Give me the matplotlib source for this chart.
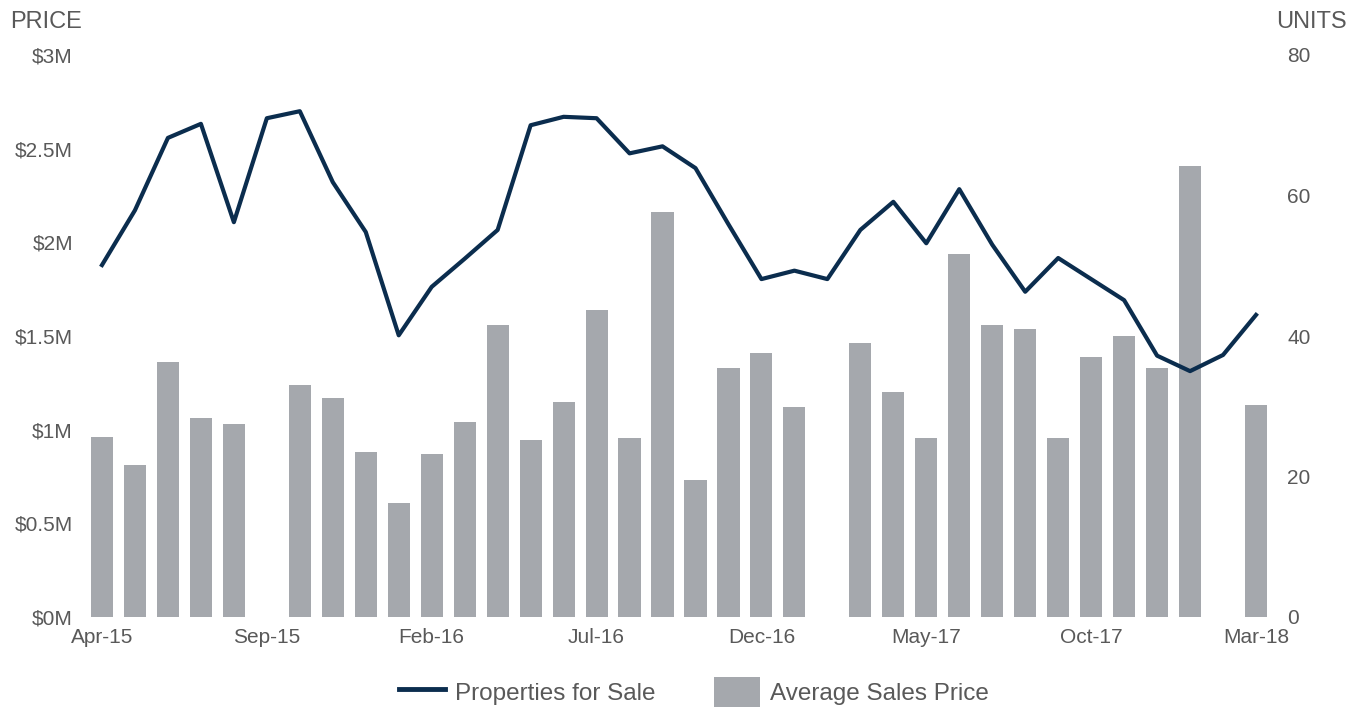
import numpy as np
import matplotlib.pyplot as plt
from matplotlib.patches import Patch
from matplotlib.lines import Line2D

plt.rcParams['font.family'] = ['Liberation Sans', 'DejaVu Sans']

months = ['Apr-15', 'May-15', 'Jun-15', 'Jul-15', 'Aug-15', 'Sep-15', 'Oct-15', 'Nov-15', 'Dec-15',
          'Jan-16', 'Feb-16', 'Mar-16', 'Apr-16', 'May-16', 'Jun-16', 'Jul-16', 'Aug-16', 'Sep-16',
          'Oct-16', 'Nov-16', 'Dec-16', 'Jan-17', 'Feb-17', 'Mar-17', 'Apr-17', 'May-17', 'Jun-17',
          'Jul-17', 'Aug-17', 'Sep-17', 'Oct-17', 'Nov-17', 'Dec-17', 'Jan-18', 'Feb-18', 'Mar-18']

# average sales price, $M (nan = no sales that month)
avg_price = [0.96, 0.81, 1.36, 1.06, 1.03, np.nan, 1.24, 1.17, 0.88, 0.61, 0.87, 1.04,
             1.56, 0.945, 1.15, 1.64, 0.955, 2.16, 0.73, 1.33, 1.41, 1.12, np.nan, 1.46,
             1.20, 0.955, 1.94, 1.56, 1.54, 0.955, 1.39, 1.50, 1.33, 2.41, np.nan, 1.13]

# properties for sale, units
units = [50.1, 57.9, 68.2, 70.2, 56.2, 71.0, 72.0, 61.9, 54.8, 40.1, 47.0, 51.0,
         55.1, 70.0, 71.2, 71.0, 66.0, 67.0, 63.9, 55.9, 48.1, 49.3, 48.1, 55.1,
         59.1, 53.2, 60.9, 53.0, 46.3, 51.1, 48.1, 45.1, 37.2, 35.0, 37.3, 43.0]

price_ticks = [0, 0.5, 1, 1.5, 2, 2.5, 3]
price_labels = ['$0M', '$0.5M', '$1M', '$1.5M', '$2M', '$2.5M', '$3M']
unit_ticks = [0, 20, 40, 60, 80]
label_idx = [0, 5, 10, 15, 20, 25, 30, 35]

bar_color = '#a5a8ad'
line_color = '#0b2d4e'
text_color = '#595959'

fig = plt.figure(figsize=(13.64, 7.09), dpi=100)
ax = fig.add_axes([85.5 / 1364, 1 - 617 / 709, 1187 / 1364, 562 / 709])
ax2 = ax.twinx()

x = np.arange(len(months))
ax.bar(x, avg_price, width=0.67, color=bar_color)
ax2.plot(x, units, color=line_color, linewidth=3.0, solid_joinstyle='round')

ax.set_xlim(-0.5, len(months) - 0.5)
ax.set_ylim(0, 3)
ax2.set_ylim(0, 80)

ax.set_yticks(price_ticks)
ax.set_yticklabels(price_labels)
ax2.set_yticks(unit_ticks)
ax.set_xticks([x[i] for i in label_idx])
ax.set_xticklabels([months[i] for i in label_idx])

for a in (ax, ax2):
    for s in a.spines.values():
        s.set_visible(False)
    a.tick_params(length=0, labelsize=15, labelcolor=text_color)

ax.tick_params(axis='y', pad=9)
ax.tick_params(axis='x', pad=8)
ax2.tick_params(axis='y', pad=10.5)

fig.text(10 / 1364, 1 - 22 / 709, 'PRICE', fontsize=17, color=text_color, va='center', ha='left')
fig.text(1347 / 1364, 1 - 22 / 709, 'UNITS', fontsize=17, color=text_color, va='center', ha='right')

handles = [Line2D([0], [0], color=line_color, linewidth=3.5),
           Patch(facecolor=bar_color)]
fig.legend(handles, ['Properties for Sale', 'Average Sales Price'], loc='center',
           bbox_to_anchor=(694 / 1364, 1 - 692 / 709), ncol=2, frameon=False,
           fontsize=17.5, labelcolor=text_color, handlelength=1.9, handleheight=1.5,
           columnspacing=2.4, handletextpad=0.4)

fig.savefig('out.png', dpi=100)
